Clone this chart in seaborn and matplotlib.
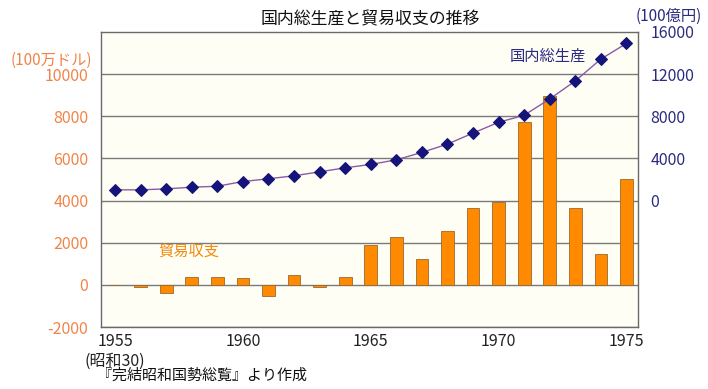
import matplotlib
matplotlib.use("Agg")
import matplotlib.pyplot as plt
import seaborn as sns
import pandas as pd
import numpy as np

years = list(range(1955, 1976))
trade_balance = [0, -125, -410, 395, 395, 330, -520, 470, -125, 395,
                 1875, 2270, 1250, 2550, 3670, 3940, 7725, 8955, 3660, 1465, 5030]
gdp = [1020, 1020, 1110, 1270, 1360, 1810, 2070, 2350, 2730, 3110,
       3430, 3870, 4570, 5360, 6410, 7430, 8100, 9650, 11360, 13430, 14920]
left_ticks = [-2000, 0, 2000, 4000, 6000, 8000, 10000]
right_ticks = [0, 4000, 8000, 12000, 16000]
x_ticks = [1955, 1960, 1965, 1970, 1975]
x_ticklabels = ["1955\n(昭和30)", "1960", "1965", "1970", "1975"]

df = pd.DataFrame({"year": years, "trade": trade_balance, "gdp": gdp})

sns.set_theme(style="white")
plt.rcParams['font.family'] = ['Noto Sans CJK JP', 'DejaVu Sans']

fig = plt.figure(figsize=(7.08, 3.89), dpi=100)
fig.patch.set_facecolor("white")
ax = fig.add_axes([101/708, 1-327/389, 537/708, 295/389])
ax.set_facecolor("#fffef5")

sns.barplot(data=df, x="year", y="trade", native_scale=True, width=0.5,
            color="#ff8a00", saturation=1, edgecolor="#9a6a30", linewidth=0.6, ax=ax)
ax.set_xlim(1954.45, 1975.45)
ax.set_ylim(-2000, 12000)
ax.set_yticks(left_ticks)
ax.set_yticklabels([str(v) for v in left_ticks])
ax.set_xticks(x_ticks)
ax.set_xticklabels(x_ticklabels)
ax.set_xlabel("")
ax.set_ylabel("")
ax.grid(axis="y", color="#7a7a7a", linewidth=1.0)
ax.set_axisbelow(True)
ax.tick_params(axis="y", length=0, pad=9, labelsize=11.5, labelcolor="#f08448")
ax.tick_params(axis="x", length=0, pad=4, labelsize=11.5, labelcolor="#222222")
for lab in ax.get_xticklabels():
    lab.set_linespacing(1.25)
for s in ax.spines.values():
    s.set_color("#6a6a6a")
    s.set_linewidth(1.0)

ax2 = ax.twinx()
sns.lineplot(data=df, x="year", y="gdp", ax=ax2, color="#8a5aa8", linewidth=1.0,
             marker="D", markersize=6.5, markerfacecolor="#14147a",
             markeredgecolor="#14147a")
ax2.set_ylim(-12000, 16000)
ax2.set_yticks(right_ticks)
ax2.set_yticklabels([str(v) for v in right_ticks])
ax2.set_ylabel("")
ax2.set_xlabel("")
ax2.tick_params(axis="y", length=0, pad=9, labelsize=11.5, labelcolor="#2a2a80")
for s in ax2.spines.values():
    s.set_visible(False)

fig.text((260+480)/2/708, 1-19/389, "国内総生産と貿易収支の推移", ha="center", va="center",
         fontsize=12.2, color="#111111")
fig.text(92/708, 1-60/389, "(100万ドル)", ha="right", va="center",
         fontsize=11, color="#f08448")
fig.text(669/708, 1-16/389, "(100億円)", ha="center", va="center",
         fontsize=11, color="#2a2a80")
ax.text(1970.45, 10860, "国内総生産", ha="left", va="center", fontsize=11,
        color="#2a2a80")
ax.text(1956.7, 1590, "貿易収支", ha="left", va="center", fontsize=11,
        color="#f08a10")
fig.text(97/708, 1-376/389, "『完結昭和国勢総覧』より作成", ha="left", va="center",
         fontsize=10.8, color="#111111")

fig.savefig("out.png", dpi=100)
